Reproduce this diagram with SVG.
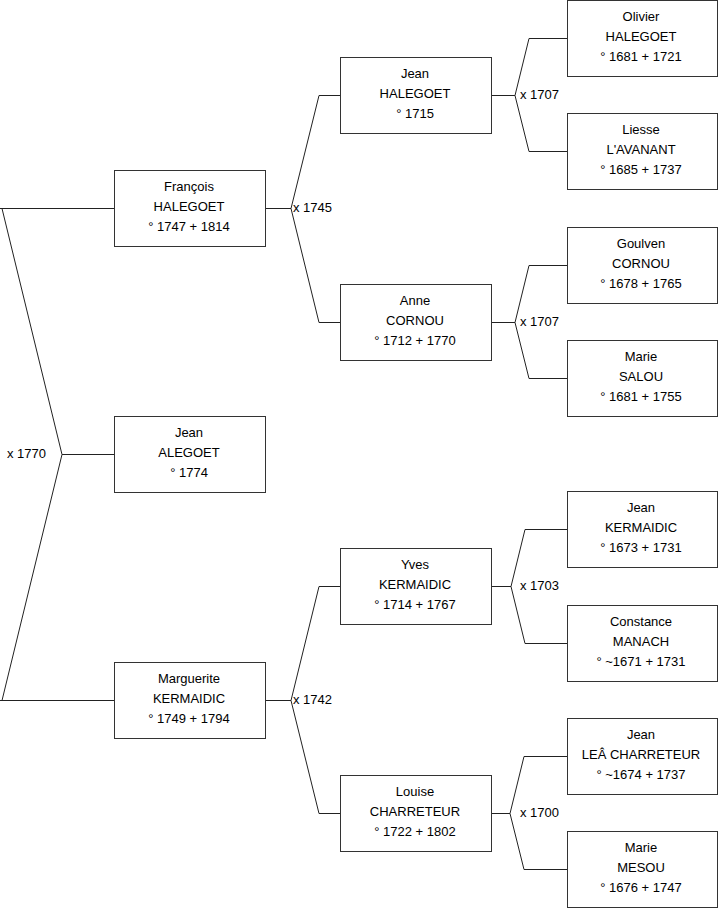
<svg xmlns="http://www.w3.org/2000/svg" width="719" height="908" viewBox="0 0 719 908">
<style>
.box{fill:#fff;stroke:#333;stroke-width:1}
.t{font-family:"Liberation Sans",Arial,sans-serif;font-size:13px;fill:#000;text-anchor:middle}
.l{font-family:"Liberation Sans",Arial,sans-serif;font-size:13px;fill:#000}
.c{fill:none;stroke:#222;stroke-width:1}
</style>
<rect width="719" height="908" fill="#fff"/>
<g id="connectors">
<path class="c" d="M114.5,208.5 H0 M2,208.5 L62,454.5 L2,700.5 M0,700.5 H114.5 M62,454.5 H114.5"/>
<path class="c" d="M265.5,208.5 H291 L319,95.5 H340.5 M291,208.5 L319,322.5 H340.5"/>
<path class="c" d="M265.5,700.5 H291 L319,586.5 H340.5 M291,700.5 L319,813.5 H340.5"/>
<path class="c" d="M491.5,95.5 H515 L529,38.5 H567.5 M515,95.5 L529,151.5 H567.5"/>
<path class="c" d="M491.5,322.5 H515 L529,265.5 H567.5 M515,322.5 L529,378.5 H567.5"/>
<path class="c" d="M491.5,586.5 H511 L525,529.5 H567.5 M511,586.5 L525,643.5 H567.5"/>
<path class="c" d="M491.5,813.5 H510 L524,756.5 H567.5 M510,813.5 L524,869.5 H567.5"/>
<text class="l" x="7" y="457.5">x 1770</text>
<text class="l" x="293" y="211.5">x 1745</text>
<text class="l" x="293" y="703.5">x 1742</text>
<text class="l" x="520" y="98.5">x 1707</text>
<text class="l" x="520" y="325.5">x 1707</text>
<text class="l" x="520" y="589.5">x 1703</text>
<text class="l" x="520" y="816.5">x 1700</text>
</g>
<g id="francois">
<rect class="box" x="114.5" y="170.5" width="151" height="76"/>
<text class="t" x="189" y="190.5">François</text>
<text class="t" x="189" y="210.5">HALEGOET</text>
<text class="t" x="189" y="230.5">° 1747 + 1814</text>
</g>
<g id="jean-alegoet">
<rect class="box" x="114.5" y="416.5" width="151" height="76"/>
<text class="t" x="189" y="436.5">Jean</text>
<text class="t" x="189" y="456.5">ALEGOET</text>
<text class="t" x="189" y="476.5">° 1774</text>
</g>
<g id="marguerite">
<rect class="box" x="114.5" y="662.5" width="151" height="76"/>
<text class="t" x="189" y="682.5">Marguerite</text>
<text class="t" x="189" y="702.5">KERMAIDIC</text>
<text class="t" x="189" y="722.5">° 1749 + 1794</text>
</g>
<g id="jean-halegoet">
<rect class="box" x="340.5" y="57.5" width="151" height="76"/>
<text class="t" x="415" y="77.5">Jean</text>
<text class="t" x="415" y="97.5">HALEGOET</text>
<text class="t" x="415" y="117.5">° 1715</text>
</g>
<g id="anne">
<rect class="box" x="340.5" y="284.5" width="151" height="76"/>
<text class="t" x="415" y="304.5">Anne</text>
<text class="t" x="415" y="324.5">CORNOU</text>
<text class="t" x="415" y="344.5">° 1712 + 1770</text>
</g>
<g id="yves">
<rect class="box" x="340.5" y="548.5" width="151" height="76"/>
<text class="t" x="415" y="568.5">Yves</text>
<text class="t" x="415" y="588.5">KERMAIDIC</text>
<text class="t" x="415" y="608.5">° 1714 + 1767</text>
</g>
<g id="louise">
<rect class="box" x="340.5" y="775.5" width="151" height="76"/>
<text class="t" x="415" y="795.5">Louise</text>
<text class="t" x="415" y="815.5">CHARRETEUR</text>
<text class="t" x="415" y="835.5">° 1722 + 1802</text>
</g>
<g id="olivier">
<rect class="box" x="567.5" y="0.5" width="150" height="76"/>
<text class="t" x="641" y="20.5">Olivier</text>
<text class="t" x="641" y="40.5">HALEGOET</text>
<text class="t" x="641" y="60.5">° 1681 + 1721</text>
</g>
<g id="liesse">
<rect class="box" x="567.5" y="113.5" width="150" height="76"/>
<text class="t" x="641" y="133.5">Liesse</text>
<text class="t" x="641" y="153.5">L'AVANANT</text>
<text class="t" x="641" y="173.5">° 1685 + 1737</text>
</g>
<g id="goulven">
<rect class="box" x="567.5" y="227.5" width="150" height="76"/>
<text class="t" x="641" y="247.5">Goulven</text>
<text class="t" x="641" y="267.5">CORNOU</text>
<text class="t" x="641" y="287.5">° 1678 + 1765</text>
</g>
<g id="marie-salou">
<rect class="box" x="567.5" y="340.5" width="150" height="76"/>
<text class="t" x="641" y="360.5">Marie</text>
<text class="t" x="641" y="380.5">SALOU</text>
<text class="t" x="641" y="400.5">° 1681 + 1755</text>
</g>
<g id="jean-kermaidic">
<rect class="box" x="567.5" y="491.5" width="150" height="76"/>
<text class="t" x="641" y="511.5">Jean</text>
<text class="t" x="641" y="531.5">KERMAIDIC</text>
<text class="t" x="641" y="551.5">° 1673 + 1731</text>
</g>
<g id="constance">
<rect class="box" x="567.5" y="605.5" width="150" height="76"/>
<text class="t" x="641" y="625.5">Constance</text>
<text class="t" x="641" y="645.5">MANACH</text>
<text class="t" x="641" y="665.5">° ~1671 + 1731</text>
</g>
<g id="jean-lea">
<rect class="box" x="567.5" y="718.5" width="150" height="76"/>
<text class="t" x="641" y="738.5">Jean</text>
<text class="t" x="641" y="758.5">LEÂ CHARRETEUR</text>
<text class="t" x="641" y="778.5">° ~1674 + 1737</text>
</g>
<g id="marie-mesou">
<rect class="box" x="567.5" y="831.5" width="150" height="76"/>
<text class="t" x="641" y="851.5">Marie</text>
<text class="t" x="641" y="871.5">MESOU</text>
<text class="t" x="641" y="891.5">° 1676 + 1747</text>
</g>
</svg>
